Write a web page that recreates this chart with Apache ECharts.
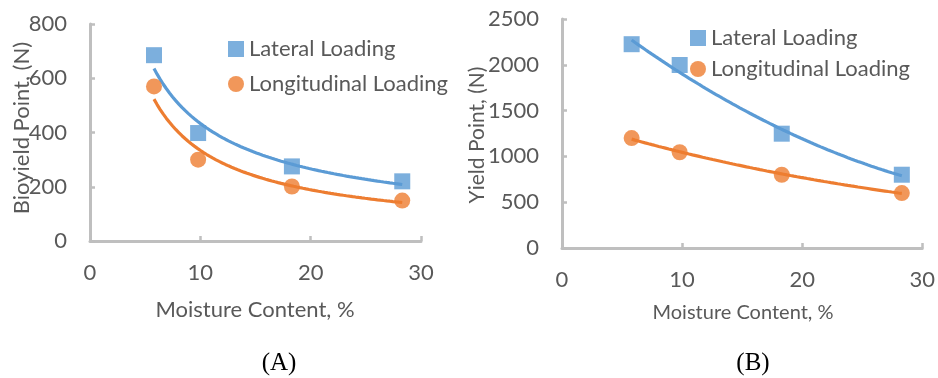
<!DOCTYPE html>
<html>
<head>
<meta charset="utf-8">
<script src="https://cdn.jsdelivr.net/npm/echarts@6/dist/echarts.min.js"></script>
<style>
  html, body { margin: 0; padding: 0; background: #ffffff; }
  #chart { width: 938px; height: 378px; }
</style>
</head>
<body>
<div id="chart"></div>
<script>
// Moisture content of the samples (%)
const moisture = [5.8, 9.8, 18.3, 28.3];
// (A) Bioyield point, N
const bioyieldLateral = [685, 398, 275, 220];
const bioyieldLongitudinal = [570, 300, 201, 149];
// (B) Yield point, N
const yieldLateral = [2225, 1998, 1248, 800];
const yieldLongitudinal = [1200, 1045, 800, 600];
// Axis ticks
const xTicks = [0, 10, 20, 30];
const yTicksA = [0, 200, 400, 600, 800];
const yTicksB = [0, 500, 1000, 1500, 2000, 2500];

const BLUE = '#5b9bd5';
const ORANGE = '#ed7d31';
const TEXT = '#595959';
const AXIS = '#bfbfbf';
const FONT = 'Lato';

// Least-squares trend lines
function linFit(xs, ys) {
  const n = xs.length;
  let sx = 0, sy = 0, sxx = 0, sxy = 0;
  for (let i = 0; i < n; i++) { sx += xs[i]; sy += ys[i]; sxx += xs[i] * xs[i]; sxy += xs[i] * ys[i]; }
  const b = (n * sxy - sx * sy) / (n * sxx - sx * sx);
  const a = (sy - b * sx) / n;
  return [a, b];
}
function powerFit(xs, ys) {
  const [a, b] = linFit(xs.map(Math.log), ys.map(Math.log));
  return x => Math.exp(a) * Math.pow(x, b);
}
function expFit(xs, ys) {
  const [a, b] = linFit(xs, ys.map(Math.log));
  return x => Math.exp(a + b * x);
}
function quadFit(xs, ys) {
  const S = k => xs.reduce((s, x) => s + Math.pow(x, k), 0);
  const T = k => xs.reduce((s, x, i) => s + Math.pow(x, k) * ys[i], 0);
  const M = [[S(0), S(1), S(2), T(0)], [S(1), S(2), S(3), T(1)], [S(2), S(3), S(4), T(2)]];
  for (let c = 0; c < 3; c++) {
    for (let r = c + 1; r < 3; r++) {
      const f = M[r][c] / M[c][c];
      for (let k = c; k < 4; k++) M[r][k] -= f * M[c][k];
    }
  }
  const p = [0, 0, 0];
  for (let r = 2; r >= 0; r--) {
    let s = M[r][3];
    for (let k = r + 1; k < 3; k++) s -= M[r][k] * p[k];
    p[r] = s / M[r][r];
  }
  return x => p[0] + p[1] * x + p[2] * x * x;
}
function curve(fn, xs) {
  const lo = Math.min(...xs), hi = Math.max(...xs), pts = [];
  for (let i = 0; i <= 80; i++) { const x = lo + (hi - lo) * i / 80; pts.push([x, fn(x)]); }
  return pts;
}
const pairs = ys => moisture.map((x, i) => [x, ys[i]]);

const chart = echarts.init(document.getElementById('chart'), null, { renderer: 'canvas' });

const axisCommon = {
  axisLine: { show: true, lineStyle: { color: AXIS, width: 3 } },
  axisTick: { show: true, inside: true, length: 5, lineStyle: { color: AXIS, width: 2.5 } },
  splitLine: { show: false },
  axisLabel: { color: TEXT, fontFamily: FONT, fontSize: 22, formatter: v => String(v) }
};
function xAxis(grid) {
  return Object.assign({}, axisCommon, {
    type: 'value', gridIndex: grid, min: xTicks[0], max: xTicks[xTicks.length - 1], interval: xTicks[1] - xTicks[0],
    axisLabel: Object.assign({}, axisCommon.axisLabel, { margin: 21 })
  });
}
function yAxis(grid, ticks) {
  return Object.assign({}, axisCommon, {
    type: 'value', gridIndex: grid, min: ticks[0], max: ticks[ticks.length - 1], interval: ticks[1] - ticks[0],
    axisLabel: Object.assign({}, axisCommon.axisLabel, { margin: 23 })
  });
}
function scatter(name, grid, data, symbol, color) {
  return { type: 'scatter', name, xAxisIndex: grid, yAxisIndex: grid, data, symbol, symbolSize: 16,
    itemStyle: { color }, z: 3 };
}
function trend(grid, data, color) {
  return { type: 'line', name: 'trend', xAxisIndex: grid, yAxisIndex: grid, data, showSymbol: false,
    symbol: 'none', smooth: false, lineStyle: { color, width: 3.2 }, z: 2, silent: true };
}
function legend(left, top, gap) {
  return {
    orient: 'vertical', left, top, itemWidth: 16, itemHeight: 16, itemGap: gap, padding: 0,
    data: [{ name: 'Lateral Loading', icon: 'rect' }, { name: 'Longitudinal Loading', icon: 'circle' }],
    textStyle: { color: TEXT, fontFamily: FONT, fontSize: 22, lineHeight: 22 },
    selectedMode: false
  };
}
function label(text, x, y, size, rotate, font, color) {
  return { type: 'text', x, y, rotation: rotate ? Math.PI / 2 : 0,
    style: { text, fill: color || TEXT, font: size + 'px ' + (font || FONT), textAlign: 'center', textVerticalAlign: 'middle' } };
}

chart.setOption({
  animation: false,
  grid: [
    { left: 90, top: 24, width: 331, height: 217 },
    { left: 562, top: 19, width: 362, height: 229 }
  ],
  xAxis: [xAxis(0), xAxis(1)],
  yAxis: [yAxis(0, yTicksA), yAxis(1, yTicksB)],
  legend: [legend(228, 38, 13), legend(690, 27, 9)],
  series: [
    trend(0, curve(powerFit(moisture, bioyieldLateral), moisture), BLUE),
    trend(0, curve(powerFit(moisture, bioyieldLongitudinal), moisture), ORANGE),
    scatter('Lateral Loading', 0, pairs(bioyieldLateral), 'rect', BLUE),
    scatter('Longitudinal Loading', 0, pairs(bioyieldLongitudinal), 'circle', ORANGE),
    trend(1, curve(quadFit(moisture, yieldLateral), moisture), BLUE),
    trend(1, curve(expFit(moisture, yieldLongitudinal), moisture), ORANGE),
    scatter('Lateral Loading', 1, pairs(yieldLateral), 'rect', BLUE),
    scatter('Longitudinal Loading', 1, pairs(yieldLongitudinal), 'circle', ORANGE)
  ],
  graphic: [
    label('Bioyield Point, (N)', 22, 128, 22, true),
    label('Moisture Content, %', 255, 310, 22, false),
    label('Yield Point, (N)', 477, 135, 21, true),
    label('Moisture Content, %', 743, 313, 20, false),
    label('(A)', 279, 363, 25, false, '"Liberation Serif"', '#000000'),
    label('(B)', 753, 363, 25, false, '"Liberation Serif"', '#000000')
  ]
});
</script>
</body>
</html>
